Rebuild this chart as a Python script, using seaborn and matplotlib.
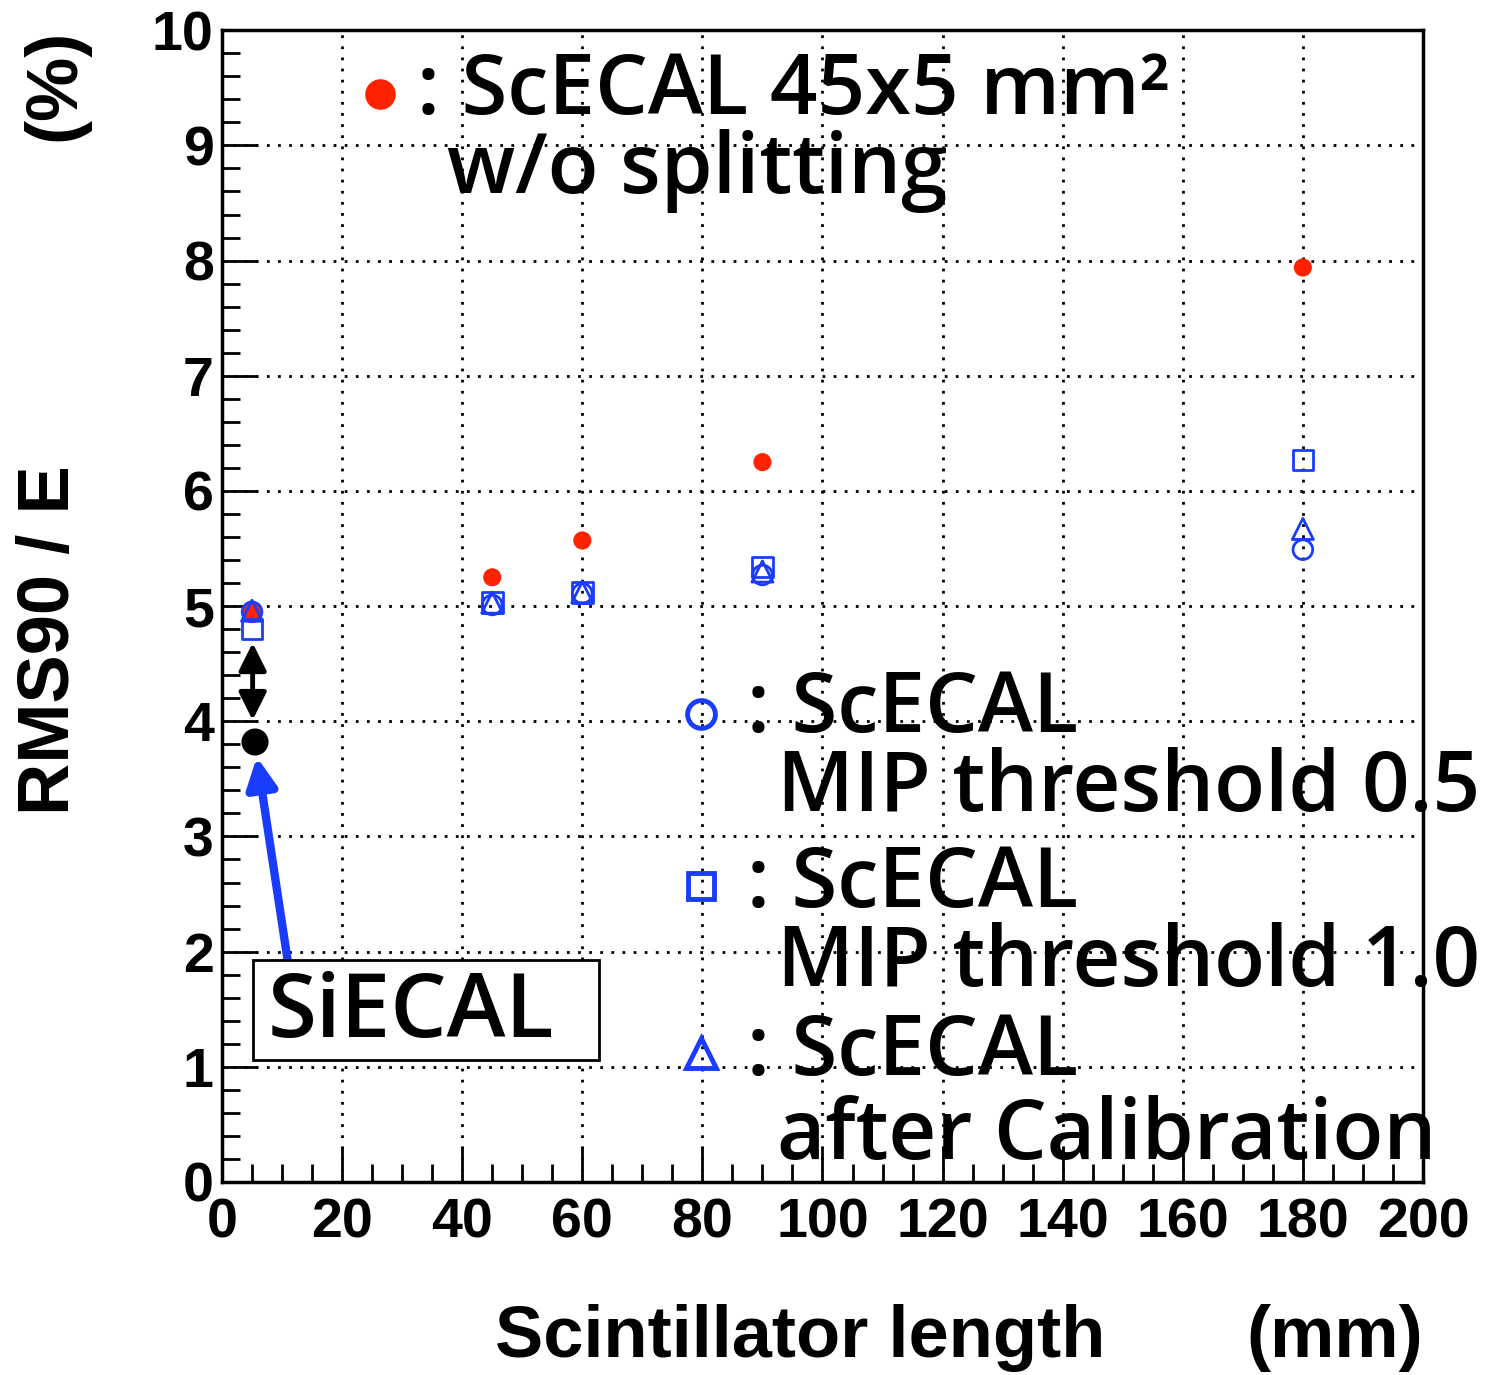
import numpy as np
import pandas as pd
import matplotlib
matplotlib.use("Agg")
import matplotlib.pyplot as plt
import seaborn as sns
from matplotlib.ticker import MultipleLocator
from matplotlib.patches import Rectangle

# ---- data ----
lengths = [5, 45, 60, 90, 180]
no_split = [4.95, 5.25, 5.57, 6.25, 7.94]
mip05 = [4.95, 5.01, 5.11, 5.27, 5.49]
mip10 = [4.80, 5.03, 5.12, 5.34, 6.27]
calib = [4.96, 5.03, 5.12, 5.30, 5.67]
siecal_x = [5.5]
siecal_y = [3.82]

RED = "#ff2200"
BLUE = "#1a3cff"

sns.set_theme(style="white")
plt.rcParams['font.family'] = ['Liberation Sans', 'DejaVu Sans']
plt.rcParams.update({"text.color": "black", "xtick.color": "black", "ytick.color": "black",
                     "axes.labelcolor": "black"})

fig = plt.figure(figsize=(14.9, 13.75), dpi=100)
ax = fig.add_axes([0.149, 0.1404, 0.806, 0.8376])

df = pd.DataFrame({"x": lengths, "red": no_split, "c": mip05, "s": mip10, "t": calib})

sns.scatterplot(data=df, x="x", y="c", ax=ax, marker="o", s=200,
                facecolor="none", edgecolor=BLUE, linewidth=2, zorder=3)
sns.scatterplot(data=df, x="x", y="s", ax=ax, marker="s", s=220,
                facecolor="none", edgecolor=BLUE, linewidth=2, zorder=3)
sns.scatterplot(data=df, x="x", y="t", ax=ax, marker="^", s=230,
                facecolor="none", edgecolor=BLUE, linewidth=2, zorder=4)
sns.scatterplot(data=df, x="x", y="red", ax=ax, marker="o", s=170,
                color=RED, edgecolor="none", zorder=2)
sns.scatterplot(x=siecal_x, y=siecal_y, ax=ax, marker="o", s=380,
                color="black", edgecolor="none", zorder=3)

ax.set_xlim(0, 200)
ax.set_ylim(0, 10)
ax.xaxis.set_major_locator(MultipleLocator(20))
ax.xaxis.set_minor_locator(MultipleLocator(5))
ax.yaxis.set_major_locator(MultipleLocator(1))
ax.yaxis.set_minor_locator(MultipleLocator(0.2))
ax.tick_params(which="major", direction="in", length=25, width=2, color="black",
               labelcolor="black", labelsize=40, pad=6,
               top=False, right=False, bottom=True, left=True)
ax.tick_params(axis="x", which="major", pad=11)
ax.tick_params(which="minor", direction="in", length=13, width=2, color="black",
               top=False, right=False, bottom=True, left=True)
for lab in ax.get_xticklabels() + ax.get_yticklabels():
    lab.set_fontweight("bold")
ax.grid(True, which="major", color="black", linestyle=(0, (1, 3)), linewidth=2)
for sp in ax.spines.values():
    sp.set_color("black")
    sp.set_linewidth(2.5)
ax.set_xlabel("")
ax.set_ylabel("")

# axis titles
fig.text(50 / 1490, 1 - 640 / 1375, "RMS90 / E", rotation=90, ha="center", va="center",
         fontsize=52, fontweight="bold", color="black")
fig.text(55 / 1490, 1 - 85 / 1375, "(%)", rotation=90, ha="center", va="center",
         fontsize=52, fontweight="bold", color="black")
fig.text(800 / 1490, 1 - 1338 / 1375, "Scintillator length", ha="center", va="center",
         fontsize=52, fontweight="bold", color="black")
fig.text(1423 / 1490, 1 - 1338 / 1375, "(mm)", ha="right", va="center",
         fontsize=52, fontweight="bold", color="black")

# legend-like annotations
LF = ['Open Sans', 'Noto Sans', 'DejaVu Sans']
FS = 60
FW = "semibold"
kw = dict(fontsize=FS, family=LF, fontweight=FW, ha="left", va="center", color="black")
ax.plot([26.3], [9.45], marker="o", ms=22, color=RED, mec="none", clip_on=False)
ax.text(32.5, 9.46, ": ScECAL 45x5 mm²", **kw)
ax.text(37.5, 8.78, "w/o splitting", **kw)

ax.plot([79.8], [4.06], marker="o", ms=20, mfc="none", mec=BLUE, mew=3.5, clip_on=False)
ax.text(87.5, 4.10, ": ScECAL", **kw)
ax.text(92.4, 3.41, "MIP threshold 0.5", **kw)

ax.plot([79.8], [2.57], marker="s", ms=19, mfc="none", mec=BLUE, mew=3.5, clip_on=False)
ax.text(87.5, 2.58, ": ScECAL", **kw)
ax.text(92.4, 1.89, "MIP threshold 1.0", **kw)

ax.plot([79.8], [1.12], marker="^", ms=21, mfc="none", mec=BLUE, mew=3.5, clip_on=False)
ax.text(87.5, 1.12, ": ScECAL", **kw)
ax.text(92.4, 0.39, "after Calibration", **kw)

# SiECAL box
ax.add_patch(Rectangle((5.16, 1.06), 57.7, 0.87, facecolor="white", edgecolor="black",
                       linewidth=2, zorder=5))
ax.text(7.6, 1.46, "SiECAL", fontsize=64, family=LF, fontweight=FW, ha="left", va="center",
        color="black", zorder=6)

# arrows
ax.annotate("", xy=(5.1, 4.01), xytext=(5.1, 4.68),
            arrowprops=dict(arrowstyle="<|-|>", color="black", lw=3.5, mutation_scale=42,
                            shrinkA=0, shrinkB=0))
ax.annotate("", xy=(5.8, 3.69), xytext=(11.0, 1.90),
            arrowprops=dict(arrowstyle="-|>", color=BLUE, lw=6, mutation_scale=45,
                            shrinkA=0, shrinkB=0))

fig.savefig("out.png", dpi=100, facecolor="white")
